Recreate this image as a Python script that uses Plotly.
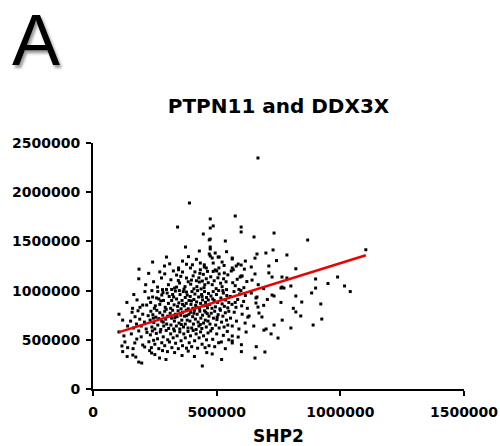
import plotly.graph_objects as go

# SHP2 (x) and DDX3X (y) values, in thousands
x_top = [667, 390, 575, 474, 342, 474, 486, 599, 599, 732, 446, 474, 470, 651, 535, 868, 374, 430, 474, 474, 728, 1103]
y_top = [2348, 1890, 1758, 1728, 1646, 1636, 1657, 1646, 1596, 1585, 1575, 1524, 1515, 1545, 1504, 1514, 1443, 1402, 1443, 1423, 1413, 1415]

x_b1 = [297, 386, 470, 474, 494, 506, 482, 510, 563, 563, 663, 699, 784, 540,
        289, 346, 394, 434, 450, 486, 563, 587, 579, 599, 711, 450, 458, 346, 434, 494, 567,
        362, 418, 522, 616, 640, 530, 402, 310, 241, 378, 509, 655, 742, 820, 186, 612]
y_b1 = [1341, 1345, 1372, 1352, 1382, 1341, 1331, 1341, 1331, 1321, 1372, 1382, 1362, 1395,
        1250, 1230, 1230, 1280, 1240, 1280, 1230, 1270, 1250, 1260, 1250, 1262, 1230, 1212, 1212, 1210, 1212,
        1300, 1318, 1290, 1300, 1240, 1255, 1262, 1272, 1290, 1268, 1230, 1330, 1305, 1222, 1218, 1218]

x_b2 = [185, 213, 225, 277, 261, 281, 297, 245, 290, 305, 270,
        338, 362, 378, 350, 338, 318, 330, 315, 355, 372, 385, 325, 368, 345,
        398, 430, 442, 405, 412, 420, 428, 437, 446, 452, 458, 463, 395, 408, 466, 418, 432, 449,
        510, 531, 476, 482, 490, 498, 505, 516, 522, 528, 538, 545, 486, 500, 540,
        559, 599, 603, 595, 565, 575, 583, 610, 622, 590, 643, 655, 711, 668, 690,
        724, 764, 784, 760, 772, 764, 800, 900, 989, 1017, 950, 900]
y_b2 = [1120, 1060, 1175, 1128, 1036, 1010, 1012, 1090, 1170, 1060, 1190,
        1158, 1189, 1128, 1077, 1036, 1012, 1026, 1110, 1145, 1040, 1090, 1200, 1015, 1102,
        1107, 1087, 1097, 1150, 1190, 1040, 1130, 1017, 1165, 1060, 1120, 1195, 1065, 1018, 1080, 1100, 1175, 1030,
        1169, 1179, 1140, 1060, 1100, 1020, 1130, 1075, 1040, 1120, 1090, 1160, 1195, 1200, 1010,
        1199, 1148, 1148, 1138, 1080, 1050, 1115, 1030, 1092, 1012, 1107, 1169, 1180, 1060, 1020,
        1138, 1138, 1128, 1026, 1026, 1036, 1047, 1118, 1138, 1047, 1072, 1026]

x_b3 = [137, 165, 178, 190, 201, 217, 225, 210, 160,
        241, 257, 233, 248, 262, 270, 278, 285, 292, 300, 305, 238, 252, 266, 283, 296, 274, 308,
        314, 318, 322, 328, 333, 338, 342, 347, 352, 356, 360, 365, 369, 373, 377, 381, 385, 388, 326, 349, 362, 378,
        393, 396, 400, 404, 408, 412, 415, 419, 423, 427, 431, 435, 439, 443, 447, 451, 455, 459, 463, 467, 398, 421, 441, 457, 466,
        472, 477, 481, 486, 490, 495, 499, 504, 508, 513, 517, 522, 527, 531, 536, 541, 545, 549, 484, 525,
        555, 562, 570, 578, 585, 593, 601, 609, 616, 624, 575, 598,
        659, 663, 659, 667, 640, 690, 705, 724, 732, 760, 820, 844, 810, 884, 921, 1040]
y_b3 = [880, 960, 905, 830, 853, 853, 925, 990, 820,
        935, 925, 880, 820, 990, 860, 955, 900, 830, 975, 870, 1000, 845, 915, 980, 810, 895, 940,
        820, 900, 960, 855, 995, 915, 840, 875, 960, 815, 900, 990, 845, 930, 870, 955, 815, 900, 935, 1000, 860, 985,
        940, 860, 990, 820, 910, 965, 850, 885, 1000, 935, 815, 870, 960, 905, 845, 990, 880, 930, 825, 970, 895, 830, 940, 850, 905,
        860, 945, 820, 990, 900, 835, 960, 880, 1000, 815, 925, 865, 975, 840, 905, 950, 825, 880, 915, 1000,
        940, 860, 990, 830, 910, 965, 845, 890, 950, 820, 880, 1000,
        925, 935, 874, 833, 975, 850, 910, 955, 945, 880, 945, 884, 820, 976, 864, 990]

x_b4 = [120, 140, 105, 152, 158, 164, 170, 176, 182, 189, 195, 201, 208, 215, 223,
        231, 234, 238, 242, 246, 250, 254, 258, 262, 266, 270, 274, 278, 282, 286, 290, 294, 298, 302, 306, 244, 284,
        312, 315, 318, 322, 326, 329, 333, 337, 340, 344, 348, 351, 355, 359, 362, 366, 370, 373, 377, 381, 384, 388, 331, 357, 379,
        392, 395, 399, 403, 406, 410, 414, 417, 421, 425, 428, 432, 436, 440, 443, 447, 451, 454, 458, 462, 465, 469, 408, 434, 456,
        473, 478, 482, 487, 492, 496, 501, 506, 510, 515, 520, 525, 530, 535, 540, 545, 549, 502,
        556, 563, 571, 580, 590, 603, 615, 626, 631, 671, 683, 650, 700, 732, 765, 820, 840, 800, 925, 890]
y_b4 = [700, 640, 760, 690, 780, 620, 735, 660, 795, 710, 640, 760, 680, 610, 745,
        700, 790, 630, 755, 675, 610, 730, 800, 650, 715, 775, 605, 690, 750, 640, 790, 710, 660, 740, 615, 720, 680,
        770, 650, 720, 800, 610, 690, 760, 640, 735, 795, 670, 610, 750, 700, 780, 630, 740, 660, 800, 700, 620, 760, 725, 655, 745,
        690, 780, 620, 735, 660, 800, 710, 605, 760, 680, 640, 790, 720, 615, 750, 670, 795, 700, 630, 765, 690, 740, 770, 655, 780,
        660, 770, 615, 720, 790, 650, 705, 755, 620, 800, 680, 740, 630, 775, 700, 650, 790, 730,
        720, 640, 780, 690, 610, 760, 670, 730, 742, 772, 732, 640, 610, 650, 700, 783, 742, 620, 711, 650]

x_b5 = [125, 129, 117, 105, 140, 169, 177, 201, 209, 155, 185, 195, 218, 226, 162,
        232, 236, 240, 245, 250, 256, 261, 266, 272, 278, 284, 290, 296, 302, 309,
        314, 319, 324, 329, 334, 340, 345, 351, 356, 362, 367, 373, 378, 384, 389,
        394, 399, 405, 411, 417, 423, 429, 435, 441, 447, 453, 459, 465, 469,
        476, 484, 492, 500, 508, 519, 527, 535, 543, 549, 563, 563, 563, 587, 619, 600, 691, 660, 748, 720]
y_b5 = [540, 478, 437, 580, 420, 468, 508, 447, 427, 560, 590, 530, 575, 480, 410,
        550, 420, 590, 495, 455, 565, 510, 410, 580, 470, 530, 440, 595, 500, 478,
        560, 420, 520, 590, 465, 540, 410, 580, 490, 440, 560, 520, 415, 585, 470,
        540, 430, 595, 490, 560, 415, 520, 580, 455, 540, 420, 500, 570, 440,
        590, 505, 430, 560, 470, 478, 545, 410, 585, 500, 468, 488, 539, 528, 579, 450, 598, 430, 518, 560]

x_b6 = [138, 120, 161, 173, 185, 197, 229, 237, 269, 281, 301, 250, 295, 330, 360, 385, 442, 410, 460, 482, 520, 600, 695, 655]
y_b6 = [330, 380, 345, 325, 274, 264, 390, 366, 315, 390, 380, 350, 300, 370, 340, 385, 234, 330, 370, 356, 300, 380, 376, 315]

# linear fit
fit_slope = 0.783
fit_intercept = 495500

shp2 = [v * 1000 for v in x_top + x_b1 + x_b2 + x_b3 + x_b4 + x_b5 + x_b6]
ddx3x = [v * 1000 for v in y_top + y_b1 + y_b2 + y_b3 + y_b4 + y_b5 + y_b6]
assert len(shp2) == len(ddx3x)

fit_x = [min(shp2), max(shp2)]
fit_y = [fit_intercept + fit_slope * v for v in fit_x]

FONT = "DejaVu Sans"

fig = go.Figure()
fig.add_trace(go.Scatter(
    x=shp2, y=ddx3x, mode="markers",
    marker=dict(symbol="square", size=3, color="black", line=dict(width=0)),
    hoverinfo="x+y", showlegend=False,
))
fig.add_trace(go.Scatter(
    x=fit_x, y=fit_y, mode="lines",
    line=dict(color="#ee0000", width=2.5),
    showlegend=False,
))

axis_common = dict(
    showline=True, linecolor="black", linewidth=2,
    ticks="outside", ticklen=5, tickwidth=2, tickcolor="black",
    showgrid=False, zeroline=False, tickformat="d", automargin=False,
    ticklabeloverflow="allow",
    tickfont=dict(family=FONT, size=14, color="black", weight="bold"),
)

fig.update_layout(
    width=500, height=446,
    margin=dict(l=93, r=36, t=143, b=57),
    paper_bgcolor="white", plot_bgcolor="white",
    title=dict(
        text="PTPN11 and DDX3X",
        font=dict(family=FONT, size=20, color="black", weight="bold"),
        x=0.5, xref="paper", xanchor="center",
        y=1 - 105.5 / 446, yref="container", yanchor="middle",
    ),
    xaxis=dict(range=[0, 1500000], tickvals=[0, 500000, 1000000, 1500000],
               ticklabelstandoff=4,
               title=dict(text="SHP2", standoff=11,
                          font=dict(family=FONT, size=17, color="black", weight="bold")),
               **axis_common),
    yaxis=dict(range=[0, 2500000], dtick=500000, ticklabelstandoff=3, **axis_common),
    annotations=[dict(
        text="A", xref="paper", yref="paper",
        x=-0.2237, y=1.4187, xanchor="left", yanchor="middle", showarrow=False,
        font=dict(family="Liberation Sans", size=72, color="black",
                  shadow="2px 3px 3px #999999"),
    )],
)

# drop the default 8px page margin so the figure fills the window
fig.write_html("out.html", config={"displayModeBar": False},
               post_script="document.body.style.margin = '0';")
